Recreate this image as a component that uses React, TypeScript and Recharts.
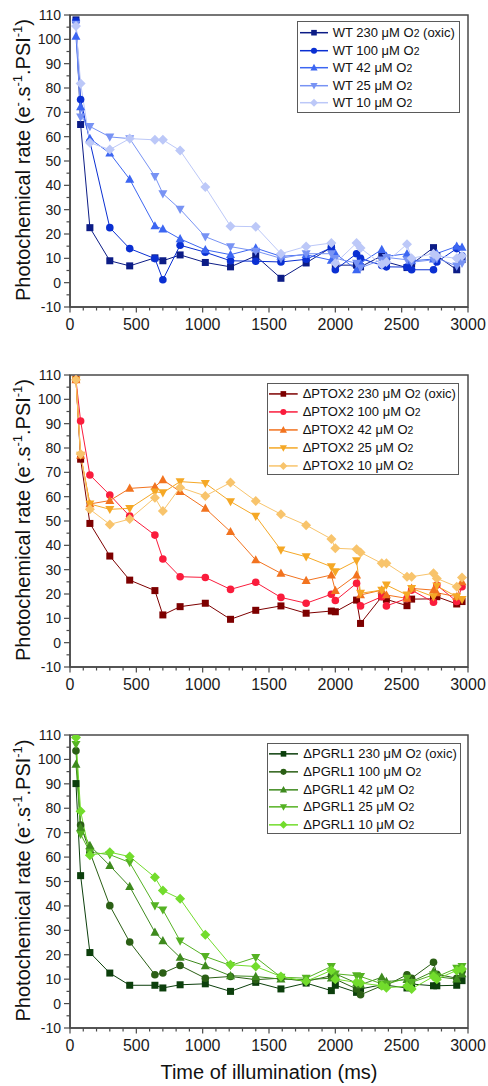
import React from 'react';
import { LineChart, Line, XAxis, YAxis, Legend, ReferenceArea } from 'recharts';

const FONT = 'Arial, "Liberation Sans", Helvetica, sans-serif';

// Illumination times (ms), shared by all series
const timesMs = [45, 80, 150, 300, 450, 640, 700, 830, 1020, 1210, 1400, 1590, 1780, 1970, 2000, 2160, 2190, 2350, 2385, 2540, 2575, 2740, 2765, 2915, 2955];

const o2Levels = ['230', '100', '42', '25', '10'];
const strains = ['WT', 'ΔPTOX2', 'ΔPGRL1'];

// WT
const wt230 = [108, 65, 22.6, 9, 6.9, 10.2, 9, 11.4, 8.3, 6.5, 11, 1.8, 8.1, 14.5, 7.2, 7.2, 6.5, 11, 8.5, 6.2, 7.6, 14.4, 11, 5.3, 9.5];
const wt100 = [107.5, 75.3, 58, 22.6, 14, 9.9, 1.2, 15.4, 12.5, 9, 8.8, 8.5, 9.6, 14.4, 5.3, 11.9, 10, 7.1, 6.5, 6.4, 5.3, 5.3, 8.5, 14, 11];
const wt42 = [101.2, 72.3, 59.2, 53.2, 42.5, 23.3, 22, 18, 13.5, 11.5, 14.2, 10.8, 11.5, 9.2, 12, 5.3, 8, 13.6, 10.8, 11.9, 9, 9.7, 12, 14.9, 14.5];
const wt25 = [106.2, 68.1, 64.2, 59.9, 59.2, 43.7, 36.6, 30.2, 18.9, 14.8, 13, 10, 11.9, 11.9, 10, 8, 6.1, 9.4, 10.4, 9.4, 8.4, 9.4, 10, 6.9, 8];
const wt10 = [105.5, 81.8, 57.5, 54.7, 59.2, 58.7, 58.7, 54.3, 39.3, 23.2, 23, 11.9, 14.9, 16.3, 8, 16.3, 14.2, 7.5, 8.5, 15.8, 10, 11.9, 11, 10, 11];

// ΔPTOX2
const ptox230 = [108.2, 75.4, 49, 35.6, 25.7, 21.4, 11.4, 14.8, 16.2, 9.6, 13.3, 15.1, 12.1, 13, 12.7, 17.5, 7.9, 18.9, 17.8, 15.2, 17.9, 18, 18.9, 15.9, 16.9];
const ptox100 = [108, 91.1, 68.9, 60.7, 52, 44.2, 34.4, 27.1, 26.8, 21.9, 24.8, 18.6, 16.2, 19.9, 17.3, 24.4, 15.1, 18.9, 15.1, 18.2, 21.6, 16.6, 23.7, 16.9, 23];
const ptox42 = [108, 77, 57, 58.4, 63.4, 64.1, 66.9, 62.1, 55.2, 45.6, 34, 28.5, 25.5, 27.8, 21.4, 27.8, 19.6, 21.6, 19.6, 18.2, 22.3, 21.6, 20.5, 18.9, 25];
const ptox25 = [108, 77.1, 57, 54.8, 55.2, 62, 61.6, 66.2, 65.5, 58, 52, 38.1, 35.3, 31.2, 29.2, 33.7, 20.3, 21.6, 23.7, 19.6, 22.3, 18.9, 23.3, 18.9, 17.8];
const ptox10 = [108, 77.5, 54.8, 48.6, 50.8, 59.6, 54.1, 63.8, 60.3, 65.8, 58.2, 52.8, 48.3, 42.6, 38.8, 38.4, 37.1, 32.6, 32.6, 27.1, 27.1, 28.5, 26.4, 23, 26.8];

// ΔPGRL1
const pgrl230 = [90.1, 52.4, 20.9, 12.5, 7.5, 7.5, 6.4, 7.7, 8.1, 5, 8.7, 6, 8.4, 5.3, 7.5, 4.6, 6, 7.7, 7.5, 6.4, 8, 7.3, 7.3, 7.5, 9.4];
const pgrl100 = [103.5, 73.1, 62, 40.1, 25.2, 11.8, 12.5, 15.6, 10.4, 11.1, 9.8, 10.4, 9.1, 11.4, 10, 6, 3.6, 7.3, 7.5, 11.8, 10.4, 16.9, 12, 10.4, 13.2];
const pgrl42 = [98, 72.1, 64.7, 56.5, 47.9, 29.2, 25.7, 18.9, 15.5, 11.4, 11.1, 10, 9.8, 10.4, 12.2, 8.4, 7.7, 10.8, 9, 9.8, 9, 13.2, 11, 10, 12.2];
const pgrl25 = [106.2, 69.4, 62, 61, 57.8, 40.1, 38.4, 25.7, 19.3, 15.6, 18.9, 10.8, 10.4, 15.2, 12.2, 11.4, 11.1, 8.1, 8, 10.4, 8.7, 11.8, 11, 14.5, 15.2];
const pgrl10 = [109, 78.8, 60.8, 62, 60.2, 51.7, 46.3, 42.9, 28.2, 15.9, 15.2, 11.1, 9.1, 13.6, 10, 8.7, 8.4, 7.3, 6.5, 7.1, 6, 11.1, 10, 13.6, 14.2];

const xTicks = [0, 100, 200, 300, 400, 500, 600, 700, 800, 900, 1000, 1100, 1200, 1300, 1400, 1500, 1600, 1700, 1800, 1900, 2000, 2100, 2200, 2300, 2400, 2500, 2600, 2700, 2800, 2900, 3000];
const xLabelTicks = [0, 500, 1000, 1500, 2000, 2500, 3000];
const yTicks = [-10, -5, 0, 5, 10, 15, 20, 25, 30, 35, 40, 45, 50, 55, 60, 65, 70, 75, 80, 85, 90, 95, 100, 105, 110];
const yLabelTicks = [-10, 0, 10, 20, 30, 40, 50, 60, 70, 80, 90, 100, 110];

const wtColors = ['#0c1c86', '#0a2fd2', '#3c66f2', '#7893f4', '#bcc8f8'];
const ptoxColors = ['#7d0000', '#fa1c3c', '#f2731f', '#f5a826', '#f8c46c'];
const pgrlColors = ['#0c3f0c', '#2b5f15', '#3e8a1e', '#55b223', '#72dc2c'];

type Shape = 'square' | 'circle' | 'up' | 'down' | 'diamond';
const shapes: Shape[] = ['square', 'circle', 'up', 'down', 'diamond'];
const keys = ['c230', 'c100', 'c42', 'c25', 'c10'];

const AXIS = '#4a4a4a';

function Marker({ shape, cx, cy, color, s = 1 }: { shape: Shape; cx: number; cy: number; color: string; s?: number }) {
  if (cx == null || cy == null || isNaN(cx) || isNaN(cy)) return null;
  switch (shape) {
    case 'square':
      return <rect x={cx - 3.5 * s} y={cy - 3.5 * s} width={7 * s} height={7 * s} fill={color} />;
    case 'circle':
      return <circle cx={cx} cy={cy} r={3.8 * s} fill={color} />;
    case 'up':
      return <polygon points={`${cx},${cy - 4.8 * s} ${cx + 4.5 * s},${cy + 3.4 * s} ${cx - 4.5 * s},${cy + 3.4 * s}`} fill={color} />;
    case 'down':
      return <polygon points={`${cx},${cy + 4.8 * s} ${cx + 4.5 * s},${cy - 3.4 * s} ${cx - 4.5 * s},${cy - 3.4 * s}`} fill={color} />;
    default:
      return <polygon points={`${cx},${cy - 5 * s} ${cx + 5 * s},${cy} ${cx},${cy + 5 * s} ${cx - 5 * s},${cy}`} fill={color} />;
  }
}

interface LegendLayout {
  top: number; left: number; width: number; height: number;
  fontSize: number; padTop: number; rowH: number; lineX: number; lineLen: number; textX: number;
}

interface Panel {
  strain: string;
  series: number[][];
  colors: string[];
  top: number;
  height: number;
  bottom: number;
  showXTitle: boolean;
  legend: LegendLayout;
}

const panels: Panel[] = [
  {
    strain: strains[0], series: [wt230, wt100, wt42, wt25, wt10], colors: wtColors,
    top: 0, height: 360, bottom: 23, showXTitle: false,
    legend: { top: 20.7, left: 297, width: 163, height: 92.6, fontSize: 13, padTop: 2.8, rowH: 17.4, lineX: 2, lineLen: 28, textX: 34.7 },
  },
  {
    strain: strains[1], series: [ptox230, ptox100, ptox42, ptox25, ptox10], colors: ptoxColors,
    top: 360, height: 360, bottom: 23, showXTitle: false,
    legend: { top: 23.3, left: 266.7, width: 192.6, height: 91.7, fontSize: 13, padTop: 1.2, rowH: 17.85, lineX: 1, lineLen: 28.7, textX: 35 },
  },
  {
    strain: strains[2], series: [pgrl230, pgrl100, pgrl42, pgrl25, pgrl10], colors: pgrlColors,
    top: 720, height: 366, bottom: 28, showXTitle: true,
    legend: { top: 22.7, left: 267.3, width: 193.4, height: 91.6, fontSize: 13, padTop: 1.5, rowH: 17.7, lineX: 1, lineLen: 29, textX: 35 },
  },
];

function LegendBox({ panel }: { panel: Panel }) {
  const lg = panel.legend;
  return (
    <div style={{ boxSizing: 'border-box', width: lg.width, height: lg.height, border: '1px solid #5a5a5a', background: '#fff', paddingTop: lg.padTop, fontFamily: FONT, fontSize: lg.fontSize, color: '#111' }}>
      {o2Levels.map((lvl, i) => (
        <div key={lvl} style={{ position: 'relative', height: lg.rowH }}>
          <svg width={lg.lineX + lg.lineLen + 4} height={lg.rowH} style={{ position: 'absolute', left: 0, top: 0 }}>
            <line x1={lg.lineX} x2={lg.lineX + lg.lineLen} y1={lg.rowH / 2} y2={lg.rowH / 2} stroke={panel.colors[i]} strokeWidth={1.5} />
            <Marker shape={shapes[i]} cx={lg.lineX + lg.lineLen / 2} cy={lg.rowH / 2} color={panel.colors[i]} s={0.8} />
          </svg>
          <span style={{ position: 'absolute', left: lg.textX, top: 0, lineHeight: `${lg.rowH}px`, whiteSpace: 'nowrap' }}>
            {panel.strain} {lvl} μM O<span style={{ fontSize: lg.fontSize * 0.8 }}>2</span>{lvl === '230' ? ' (oxic)' : ''}
          </span>
        </div>
      ))}
    </div>
  );
}

const YTick = (props: any) => {
  const { x, y, payload } = props;
  const v = payload.value;
  const major = yLabelTicks.includes(v);
  return (
    <g>
      <line x1={x} x2={x - (major ? 6 : 3.5)} y1={y} y2={y} stroke={AXIS} strokeWidth={1.2} />
      {major && (
        <text x={x - 9} y={y} dy="0.36em" textAnchor="end" fontSize={14} fontFamily={FONT} fill="#1a1a1a">{v}</text>
      )}
    </g>
  );
};

const XTick = (props: any) => {
  const { x, y, payload } = props;
  const v = payload.value;
  const major = xLabelTicks.includes(v);
  return (
    <g>
      <line x1={x} x2={x} y1={y} y2={y + (major ? 5.5 : 3.5)} stroke={AXIS} strokeWidth={1.2} />
      {major && (
        <text x={x} y={y + 23} textAnchor="middle" fontSize={16} fontFamily={FONT} fill="#1a1a1a">{v}</text>
      )}
    </g>
  );
};

const renderYTitle = (props: any) => {
  const vb = props.viewBox || { x: 10, y: 15, width: 60, height: 292 };
  const x = vb.x + 20;
  const y = vb.y + vb.height / 2 - 1;
  return (
    <text transform={`translate(${x},${y}) rotate(-90)`} textAnchor="middle" fontSize={20} fontFamily={FONT} fill="#111">
      Photochemical rate (e<tspan dy={-8} fontSize={13}>-</tspan>
      <tspan dy={8}>.s</tspan>
      <tspan dy={-8} fontSize={13}>-1</tspan>
      <tspan dy={8}>.PSI</tspan>
      <tspan dy={-8} fontSize={13}>-1</tspan>
      <tspan dy={8}>)</tspan>
    </text>
  );
};

const renderXTitle = (props: any) => {
  const vb = props.viewBox || { x: 70, y: 308, width: 398, height: 30 };
  return (
    <text x={vb.x + vb.width / 2} y={vb.y + 51} textAnchor="middle" fontSize={20} fontFamily={FONT} fill="#111">
      Time of illumination (ms)
    </text>
  );
};

function PanelChart({ panel }: { panel: Panel }) {
  const data = timesMs.map((t, i) => ({
    t,
    c230: panel.series[0][i],
    c100: panel.series[1][i],
    c42: panel.series[2][i],
    c25: panel.series[3][i],
    c10: panel.series[4][i],
  }));
  return (
    <LineChart width={488} height={panel.height} data={data} margin={{ top: 15, right: 20, left: 10, bottom: panel.bottom }}>
      <XAxis
        dataKey="t" type="number" domain={[0, 3000]} ticks={xTicks} interval={0} allowDataOverflow
        height={30} tickSize={0} tickMargin={0} tickLine={false} tick={XTick}
        axisLine={{ stroke: AXIS, strokeWidth: 1.5 }}
        label={panel.showXTitle ? renderXTitle : undefined}
      />
      <YAxis
        type="number" domain={[-10, 110]} ticks={yTicks} interval={0} allowDataOverflow
        width={60} tickSize={0} tickMargin={0} tickLine={false} tick={YTick}
        axisLine={{ stroke: AXIS, strokeWidth: 1.5 }}
        label={renderYTitle}
      />
      <ReferenceArea x1={0} x2={3000} y1={-10} y2={110} fill="none" stroke={AXIS} strokeWidth={1.5} ifOverflow="visible" />
      {keys.map((k, i) => (
        <Line
          key={k}
          dataKey={k}
          name={`${panel.strain} ${o2Levels[i]} μM O2${o2Levels[i] === '230' ? ' (oxic)' : ''}`}
          stroke={panel.colors[i]}
          strokeWidth={1}
          isAnimationActive={false}
          activeDot={false}
          dot={(p: any) => <Marker key={`${k}-${p.index}`} shape={shapes[i]} cx={p.cx} cy={p.cy} color={panel.colors[i]} />}
        />
      ))}
      <Legend
        layout="vertical" align="center" verticalAlign="middle"
        wrapperStyle={{ position: 'absolute', top: panel.legend.top, left: panel.legend.left, width: panel.legend.width, height: panel.legend.height, right: 'auto', bottom: 'auto', margin: 0 }}
        content={() => <LegendBox panel={panel} />}
      />
    </LineChart>
  );
}

export default function App() {
  return (
    <div style={{ position: 'absolute', top: 0, left: 0, width: 488, height: 1086, background: '#fff' }}>
      {panels.map((p) => (
        <div key={p.strain} style={{ position: 'absolute', top: p.top, left: 0, width: 488, height: p.height }}>
          <PanelChart panel={p} />
        </div>
      ))}
    </div>
  );
}
